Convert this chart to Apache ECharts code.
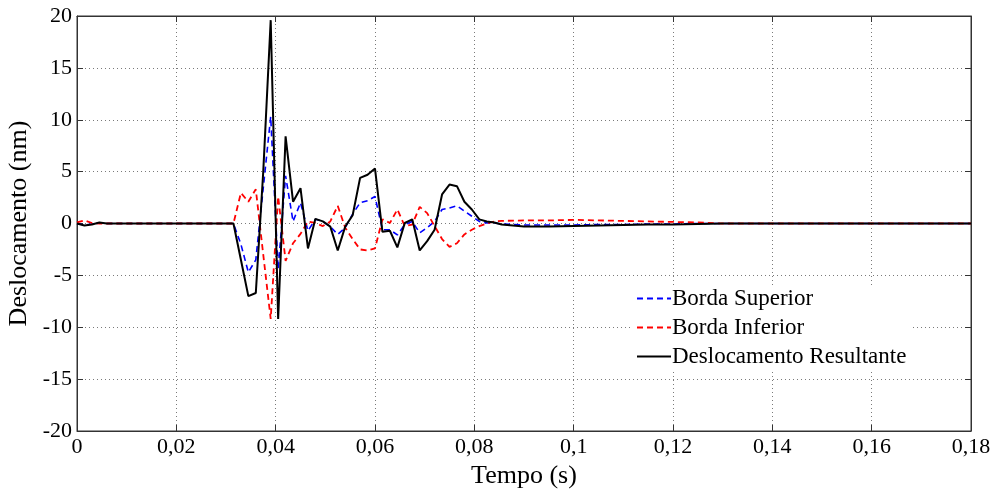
<!DOCTYPE html>
<html>
<head>
<meta charset="utf-8">
<script src="https://cdn.jsdelivr.net/npm/echarts@6/dist/echarts.min.js"></script>
<style>
  html, body { margin: 0; padding: 0; background: #fff; }
  #chart { width: 997px; height: 493px; }
</style>
</head>
<body>
<div id="chart"></div>
<script>
// ── Data ───────────────────────────────────────────────────────────────
const tempo = [0, 0.0015, 0.003, 0.0045, 0.006, 0.03, 0.0315, 0.033, 0.0345, 0.036,
  0.0375, 0.039, 0.0405, 0.042, 0.0435, 0.045, 0.0465, 0.048, 0.0495, 0.051,
  0.0525, 0.054, 0.0555, 0.057, 0.0585, 0.06, 0.0615, 0.063, 0.0645, 0.066,
  0.0675, 0.069, 0.0705, 0.072, 0.0735, 0.075, 0.0765, 0.078, 0.0795, 0.081,
  0.0825, 0.084, 0.0855, 0.09, 0.095, 0.1, 0.105, 0.11, 0.115, 0.12,
  0.125, 0.13, 0.14, 0.16, 0.18];

const bordaSuperior = [0, -0.15, -0.05, 0.05, 0, 0, 0, -2.0, -4.7, -3.5,
  3.4, 10.3, -4.4, 4.6, 0.2, 2.0, -0.7, 0.4, 0.2, -0.3,
  -1.05, -0.4, 0.9, 2.0, 2.2, 2.6, -0.6, -0.6, -1.1, -0.1,
  0.2, -0.9, -0.4, 0.2, 1.35, 1.5, 1.7, 1.2, 0.7, 0.2,
  0.06, 0.05, -0.05, -0.15, -0.15, -0.15, -0.1, -0.1, -0.05, -0.05,
  0, 0, 0, 0, 0];

const bordaInferior = [0.1, 0.3, 0.05, 0, 0, 0, 0, 2.95, 2.1, 3.3,
  -3.0, -9.2, 2.6, -3.6, -1.9, -1.0, 0.2, 0.05, -0.25, 0.2,
  1.7, -0.4, -1.5, -2.5, -2.6, -2.4, 0.4, 0.05, 1.35, -0.25,
  -0.1, 1.6, 1.0, -0.25, -1.5, -2.25, -1.9, -1.05, -0.6, -0.25,
  0, 0.2, 0.25, 0.3, 0.3, 0.35, 0.3, 0.25, 0.2, 0.15,
  0.1, 0, 0, 0, 0];

const resultante = [0, -0.2, -0.1, 0.1, 0, 0, 0, -3.5, -7.0, -6.7,
  5.0, 19.6, -9.2, 8.4, 2.1, 3.4, -2.4, 0.45, 0.2, -0.3,
  -2.6, -0.3, 0.8, 4.4, 4.7, 5.3, -0.8, -0.7, -2.3, 0.05,
  0.4, -2.6, -1.7, -0.6, 2.8, 3.75, 3.6, 2.1, 1.35, 0.4,
  0.2, 0.1, -0.1, -0.3, -0.3, -0.25, -0.2, -0.15, -0.1, -0.1,
  -0.05, 0, 0, 0, 0];

const seriesNames = ['Borda Superior', 'Borda Inferior', 'Deslocamento Resultante'];

// ── Style ───────────────────────────────────────────────────────────────
const fontFamily = '"Liberation Serif", "DejaVu Serif", serif';
const textColor = '#000';
const axisColor = '#333';
const gridDot = '#7a7a7a';

const pairs = (ys) => tempo.map((t, i) => [t, ys[i]]);
const fmtX = (v) => String(+v.toFixed(2)).replace('.', ',');

const boxAxis = {
  axisLine: { show: true, onZero: false, lineStyle: { color: axisColor } },
  axisTick: { show: true, inside: true, length: 6, lineStyle: { color: axisColor } },
  axisLabel: { show: false },
  splitLine: { show: false },
};

const chart = echarts.init(document.getElementById('chart'), null, { renderer: 'canvas' });
chart.setOption({
  animation: false,
  backgroundColor: '#fff',
  grid: {
    left: 77, right: 26, top: 16, bottom: 62,
    outerBoundsMode: 'none', containLabel: false,
    show: true, borderColor: axisColor, borderWidth: 1,
  },
  legend: {
    data: seriesNames,
    orient: 'vertical',
    left: 632, top: 285,
    itemWidth: 34, itemHeight: 14, itemGap: 6,
    backgroundColor: '#fff',
    padding: [2, 6, 2, 4],
    itemStyle: { opacity: 0 },
    textStyle: { fontFamily, fontSize: 23, color: textColor, padding: [0, 0, 0, -4] },
  },
  xAxis: [{
    type: 'value', min: 0, max: 0.18, interval: 0.02,
    name: 'Tempo (s)', nameLocation: 'middle', nameGap: 30,
    nameTextStyle: { fontFamily, fontSize: 26, color: textColor },
    axisLine: { show: true, onZero: false, lineStyle: { color: axisColor } },
    axisTick: { show: true, inside: true, length: 6, lineStyle: { color: axisColor } },
    axisLabel: { fontFamily, fontSize: 22, color: textColor, margin: 5, formatter: fmtX },
    splitLine: { show: true, lineStyle: { color: gridDot, type: [1, 3], width: 1 } },
  }, Object.assign({ type: 'value', min: 0, max: 0.18, interval: 0.02, position: 'top' }, boxAxis)],
  yAxis: [{
    type: 'value', min: -20, max: 20, interval: 5,
    name: 'Deslocamento (nm)', nameLocation: 'middle', nameGap: 42,
    nameTextStyle: { fontFamily, fontSize: 26, color: textColor },
    axisLine: { show: true, onZero: false, lineStyle: { color: axisColor } },
    axisTick: { show: true, inside: true, length: 6, lineStyle: { color: axisColor } },
    axisLabel: { fontFamily, fontSize: 22, color: textColor, margin: 5 },
    splitLine: { show: true, lineStyle: { color: gridDot, type: [1, 3], width: 1 } },
  }, Object.assign({ type: 'value', min: -20, max: 20, interval: 5, position: 'right' }, boxAxis)],
  series: [
    {
      name: seriesNames[0], type: 'line', data: pairs(bordaSuperior),
      symbol: 'none', color: '#0000ff',
      lineStyle: { color: '#0000ff', width: 1.6, type: [6, 4] },
    },
    {
      name: seriesNames[1], type: 'line', data: pairs(bordaInferior),
      symbol: 'none', color: '#ff0000',
      lineStyle: { color: '#ff0000', width: 1.8, type: [6, 4] },
    },
    {
      name: seriesNames[2], type: 'line', data: pairs(resultante),
      symbol: 'none', color: '#000000',
      lineStyle: { color: '#000000', width: 2 },
    },
  ],
});
</script>
</body>
</html>
